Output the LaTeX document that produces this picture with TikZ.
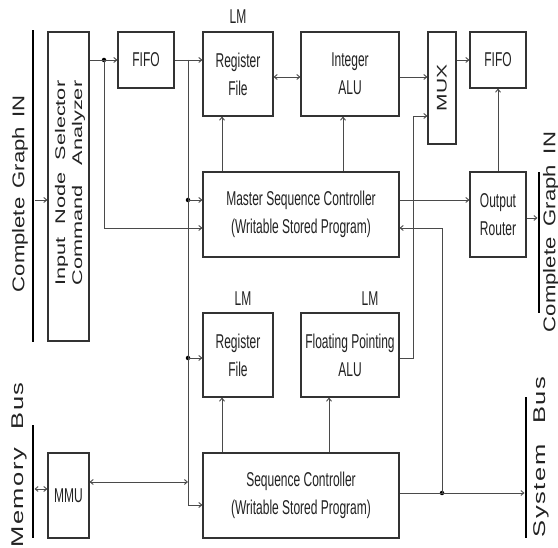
\documentclass[tikz,border=0pt]{standalone}
\usepackage{fontspec}
\usepackage{graphicx}
\setmainfont{Liberation Sans}
\newfontfamily\boxfont[FakeStretch=0.6]{Liberation Sans}
\newfontfamily\spacedfont[LetterSpace=6]{Liberation Sans}
\usetikzlibrary{arrows.meta,calc}
\definecolor{boxc}{HTML}{333333}
\definecolor{linec}{HTML}{4A4A4A}
\definecolor{txtc}{HTML}{222222}
\newcommand{\widetext}[3]{\scalebox{#1}[1]{\makebox[#2][s]{#3}}}
\begin{document}
\begin{tikzpicture}[x=1pt,y=-1pt,
 blk/.style={draw=boxc,line width=1.1pt,inner sep=0pt,align=center,text=txtc,font=\boxfont\fontsize{20}{28}\selectfont},
 bus/.style={fill=black,draw=none,inner sep=0pt,minimum width=2.6pt},
 conn/.style={draw=linec,line width=0.9pt},
 arr/.style={conn,-{Straight Barb[length=3pt,width=5pt]}},
 darr/.style={conn,{Straight Barb[length=3pt,width=5pt]}-{Straight Barb[length=3pt,width=5pt]}},
 jdot/.style={fill=black,circle,inner sep=0pt,minimum size=4.5pt},
 lm/.style={text=txtc,font=\boxfont\fontsize{20}{22}\selectfont,inner sep=0pt},
 outerlbl/.style={rotate=90,text=txtc,inner sep=0pt,font=\fontsize{17}{20}\selectfont},
]
\useasboundingbox[fill=white] (0,0) rectangle (558,548);

% buses
\node[bus,minimum height=312pt] (cgin) at (33,186) {};
\node[bus,minimum height=113pt] (membus) at (33,481.5) {};
\node[bus,minimum height=141pt] (rbar) at (539,242.5) {};
\node[bus,minimum height=141pt] (sysbus) at (526,467.5) {};

% bus labels
\node[outerlbl] (lcg) at (20,194) {\widetext{1.3}{151pt}{Complete Graph IN}};
\node[outerlbl] (lmb) at (19,465) {\widetext{1.5}{110pt}{\spacedfont Memory Bus}};
\node[outerlbl] (rcg) at (551,232) {\widetext{1.3}{154pt}{Complete Graph IN}};
\node[outerlbl] (lsb) at (541,457) {\widetext{1.5}{107pt}{\spacedfont System Bus}};

% blocks
\node[blk,minimum width=41pt,minimum height=309pt] (ins) at (68.5,186.5) {};
\node[rotate=90,text=txtc,inner sep=0pt,align=center,font=\fontsize{14}{17}\selectfont] (instext) at (70,183)
  {\widetext{1.55}{132pt}{Input Node Selector}\\\widetext{1.55}{132pt}{Command Analyzer}};
\node[blk,minimum width=56pt,minimum height=56pt] (fifo1) at (146,60) {FIFO};
\node[blk,minimum width=70pt,minimum height=84pt] (rf1) at (238,74) {Register\\File};
\node[blk,minimum width=98pt,minimum height=84pt] (ialu) at (350,74) {Integer\\ALU};
\node[blk,minimum width=28pt,minimum height=112pt] (mux) at (442,88) {};
\node[rotate=90,text=txtc,inner sep=0pt,font=\fontsize{14}{17}\selectfont] (muxtext) at (442,88) {\scalebox{1.5}[1]{MUX}};
\node[blk,minimum width=56pt,minimum height=56pt] (fifo2) at (498,60) {FIFO};
\node[blk,minimum width=196pt,minimum height=85pt] (msc) at (301,214.5) {Master Sequence Controller\\(Writable Stored Program)};
\node[blk,minimum width=56pt,minimum height=85pt] (or) at (498,214.5) {Output\\Router};
\node[blk,minimum width=70pt,minimum height=84pt] (rf2) at (238,355) {Register\\File};
\node[blk,minimum width=98pt,minimum height=84pt] (fpalu) at (350,355) {Floating Pointing\\ALU};
\node[blk,minimum width=196pt,minimum height=85pt] (sc) at (301,495.5) {Sequence Controller\\(Writable Stored Program)};
\node[blk,minimum width=41pt,minimum height=85pt] (mmu) at (68.5,495.5) {MMU};

% LM labels
\node[lm] (lm1) at (238,17) {LM};
\node[lm] (lm2) at (243,299) {LM};
\node[lm] (lm3) at (370,299) {LM};

% junctions
\node[jdot] (d1) at (104,60) {};
\coordinate (v1) at (188,60);
\node[jdot] (d2) at (188,200) {};
\node[jdot] (d3) at (188,358) {};
\node[jdot] (d4) at (442,493) {};

% connectors
\draw[arr] (cgin.east |- 0,200) -- (ins.west |- 0,200);
\draw[arr] (ins.east |- 0,60) -- (fifo1.west |- 0,60);
\draw[arr] (d1.center) |- (msc.west |- 0,228);
\draw[arr] (fifo1.east |- 0,60) -- (rf1.west |- 0,60);
\draw[arr] (v1) |- (sc.west |- 0,505);
\draw[arr] (d2.center) -- (msc.west |- 0,200);
\draw[arr] (d3.center) -- (rf2.west |- 0,358);
\draw[darr] (mmu.east |- 0,482) -- (v1 |- 0,482);
\draw[darr] (membus.east |- 0,489) -- (mmu.west |- 0,489);
\draw[arr] (msc.north -| 222,0) -- (rf1.south -| 222,0);
\draw[arr] (msc.north -| 343,0) -- (ialu.south -| 343,0);
\draw[darr] (rf1.east |- 0,77) -- (ialu.west |- 0,77);
\draw[arr] (ialu.east |- 0,77) -- (mux.west |- 0,77);
\draw[arr] (mux.east |- 0,60) -- (fifo2.west |- 0,60);
\draw[arr] (fpalu.east |- 0,358) -| (413,116) -- (mux.west |- 0,116);
\draw[arr] (or.north -| 498,0) -- (fifo2.south -| 498,0);
\draw[arr] (msc.east |- 0,200) -- (or.west |- 0,200);
\draw[arr] (or.east |- 0,218) -- (rbar.west |- 0,218);
\draw[arr] (sc.east |- 0,493) -- (sysbus.west |- 0,493);
\draw[arr] (d4.center) |- (msc.east |- 0,228);
\draw[arr] (sc.north -| 222,0) -- (rf2.south -| 222,0);
\draw[arr] (sc.north -| 329,0) -- (fpalu.south -| 329,0);
\end{tikzpicture}
\end{document}
